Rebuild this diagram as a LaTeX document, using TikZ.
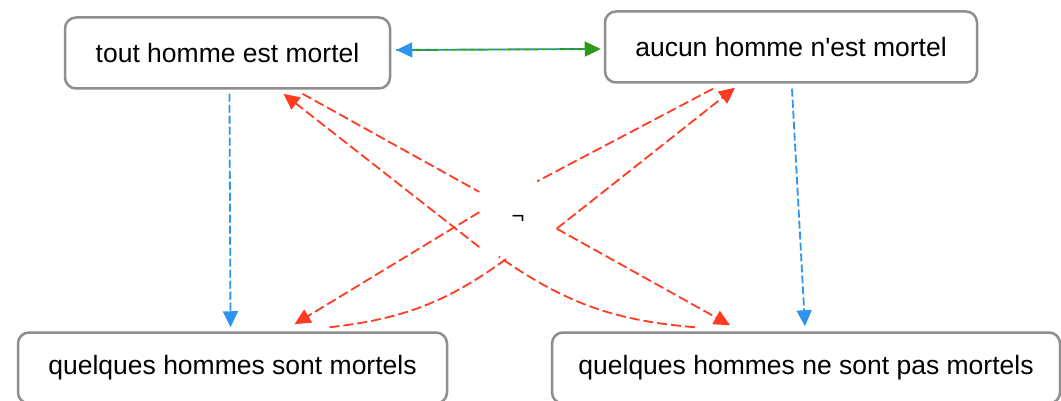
\documentclass[tikz,border=0pt]{standalone}
\usepackage{fontspec}
\setmainfont{Liberation Sans}
\usetikzlibrary{arrows.meta,calc}
\definecolor{boxgray}{HTML}{8E8E8E}
\definecolor{redc}{HTML}{FF3B22}
\definecolor{bluec}{HTML}{2E95EE}
\definecolor{greenc}{HTML}{2E9A1C}
\begin{document}
\begin{tikzpicture}[x=1pt,y=-1pt,
  concept/.style={draw=boxgray, line width=2.5pt, rounded corners=11pt, fill=white,
    font=\fontsize{26.5}{30}\selectfont, inner sep=0pt, align=center, minimum height=71pt},
  negline/.style={draw=redc, line width=1.8pt, dash pattern=on 10pt off 4pt},
  negarrow/.style={negline, -{Triangle[length=16pt,width=15pt]}},
  implarrow/.style={draw=bluec, line width=1.8pt, dash pattern=on 8pt off 3pt, -{Triangle[length=16pt,width=15pt]}},
  contrline/.style={draw=greenc, line width=1.9pt, -{Triangle[length=16pt,width=15pt]}},
  contrdash/.style={draw=bluec, line width=1.1pt, dash pattern=on 4pt off 5pt, {Triangle[length=16pt,width=15pt]}-, shorten >=15pt},
  neglabel/.style={minimum width=77pt, minimum height=75pt, inner sep=0pt, font=\fontsize{22}{24}\selectfont}
]
\useasboundingbox (0,0) rectangle (1061,401);
\clip (0,0) rectangle (1061,401);

\node[concept, minimum width=325pt] (tout) at (227.5,53) {tout homme est mortel};
\node[concept, minimum width=372pt] (aucun) at (791,47) {aucun homme n\textquotesingle est mortel};
\node[concept, minimum width=429pt] (qsm) at (232.5,368) {quelques hommes sont mortels};
\node[concept, minimum width=508pt] (qhn) at (806,368) {quelques hommes ne sont pas mortels};
\node[neglabel] (lbl) at (518,219) {¬};

% contrariety
\draw[contrline] ($(tout.east)+(5,-3)$) -- ($(aucun.west)+(-3,2)$);
\draw[contrdash] ($(tout.east)+(5,-3)$) -- ($(aucun.west)+(-3,2)$);

% subalternation
\draw[implarrow] ($(tout.south)+(2,4)$) -- ($(qsm.north)+(-2,-4)$);
\draw[implarrow] ($(aucun.south)+(1,5)$) -- ($(qhn.north)+(-1,-5)$);

% contradiction via negation
\draw[negline] ($(tout.south)+(75,4)$) -- (lbl.145);
\draw[negarrow] (lbl.216) -- ($(tout.south)+(56,4)$);
\draw[negline] ($(aucun.south)+(-78,5)$) -- (lbl.63);
\draw[negarrow] (lbl.346) -- ($(aucun.south)+(-56,4)$);
\draw[negarrow] (lbl.170) -- ($(qsm.north)+(62,-7)$);
\draw[negline] ($(qsm.north)+(97,-4)$) to[bend right=15] (lbl.257);
\draw[negline] ($(qhn.north)+(-111,-4)$) to[bend left=15] (lbl.243);
\draw[negarrow] (lbl.346) -- ($(qhn.north)+(-76,-6)$);
\end{tikzpicture}
\end{document}
